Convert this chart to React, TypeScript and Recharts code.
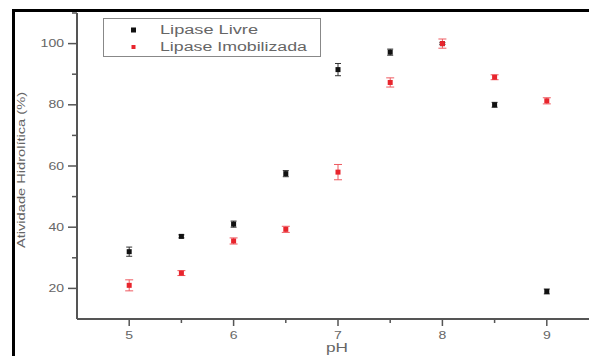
import { ScatterChart, Scatter, XAxis, YAxis, ErrorBar } from "recharts";

const phValues = [5, 5.5, 6, 6.5, 7, 7.5, 8, 8.5, 9];
const livre = [32, 37, 41, 57.5, 91.5, 97.2, 100, 80, 19];
const livreErr = [1.5, 0.5, 1, 1, 2, 1, 0.3, 0.8, 0.8];
const imobilizada = [21, 25, 35.5, 39.3, 58, 87.3, 100, 89, 81.3];
const imobilizadaErr = [1.8, 0.8, 1, 1, 2.5, 1.5, 1.5, 0.8, 1];
const xTicks = [5, 5.5, 6, 6.5, 7, 7.5, 8, 8.5, 9];
const yTicks = [20, 30, 40, 50, 60, 70, 80, 90, 100, 110];

const livreData = phValues.map((ph, i) => ({ ph, v: livre[i], err: livreErr[i] }));
const imobData = phValues.map((ph, i) => ({ ph, v: imobilizada[i], err: imobilizadaErr[i] }));

const axisColor = "#555";
const textColor = "#666";

function YTick(props: any) {
  const { x, y, payload } = props;
  const major = payload.value % 20 === 0;
  const s = String(payload.value);
  return (
    <g>
      <line x1={x - (major ? 9 : 5)} x2={x} y1={y} y2={y} stroke={axisColor} strokeWidth={1.5} />
      {major && (
        <text x={x - 13} y={y} dy={3.5} textAnchor="end" fontSize={10} fill={textColor}
          fontFamily="Liberation Sans, Arial, sans-serif" textLength={s.length * 7.8} lengthAdjust="spacingAndGlyphs">
          {s}
        </text>
      )}
    </g>
  );
}

function XTick(props: any) {
  const { x, y, payload } = props;
  const major = payload.value % 1 === 0;
  const s = String(payload.value);
  return (
    <g>
      <line x1={x} x2={x} y1={y} y2={y + (major ? 7 : 4)} stroke={axisColor} strokeWidth={1.5} />
      {major && (
        <text x={x} y={y + 20} textAnchor="middle" fontSize={10} fill={textColor}
          fontFamily="Liberation Sans, Arial, sans-serif" textLength={s.length * 7.8} lengthAdjust="spacingAndGlyphs">
          {s}
        </text>
      )}
    </g>
  );
}

const square = (color: string, size: number) => (props: any) => (
  <rect x={props.cx - size / 2} y={props.cy - size / 2} width={size} height={size} fill={color} />
);

export default function App() {
  return (
    <div style={{ position: "absolute", left: 0, top: 0, width: 589, height: 356, overflow: "hidden", background: "#fff" }}>
      <div style={{ position: "absolute", left: 12, top: 9, width: 600, height: 400, borderTop: "3px solid #000", borderLeft: "3px solid #000" }} />
      <ScatterChart width={600} height={356} margin={{ top: 13, right: 1, bottom: 7, left: 0 }}>
        <XAxis
          type="number"
          dataKey="ph"
          domain={[4.5, 9.5]}
          ticks={xTicks}
          height={30}
          tickSize={0}
          tickMargin={0}
          tick={<XTick />}
          stroke={axisColor}
          strokeWidth={2}
          label={() => (
            <text x={337} y={352} textAnchor="middle" fontSize={12} fill={textColor}
              fontFamily="Liberation Sans, Arial, sans-serif" textLength={22} lengthAdjust="spacingAndGlyphs">
              pH
            </text>
          )}
        />
        <YAxis
          type="number"
          dataKey="v"
          domain={[10, 110]}
          ticks={yTicks}
          width={77}
          tickSize={0}
          tickMargin={0}
          tick={<YTick />}
          stroke={axisColor}
          strokeWidth={2}
          label={() => (
            <text x={25} y={170} textAnchor="middle" fontSize={11} fill={textColor} transform="rotate(-90 25 170)"
              fontFamily="Liberation Sans, Arial, sans-serif" textLength={156} lengthAdjust="spacingAndGlyphs">
              Atividade Hidrolítica (%)
            </text>
          )}
        />
        <Scatter data={livreData} shape={square("#111", 5)} isAnimationActive={false}>
          <ErrorBar dataKey="err" direction="y" width={3} stroke="#333" strokeWidth={1} />
        </Scatter>
        <Scatter data={imobData} shape={square("#e8252d", 5)} isAnimationActive={false}>
          <ErrorBar dataKey="err" direction="y" width={4} stroke="#ee5a60" strokeWidth={1} />
        </Scatter>
      </ScatterChart>
      <svg style={{ position: "absolute", left: 103, top: 18 }} width={220} height={41}>
        <rect x={0.5} y={0.5} width={217} height={38} fill="#fff" stroke="#888" strokeWidth={1} />
        <rect x={28} y={9.5} width={5} height={5} fill="#111" />
        <rect x={28.5} y={27} width={4} height={4} fill="#e8252d" />
        <text x={57} y={16} fontSize={12.5} fill={textColor} fontFamily="Liberation Sans, Arial, sans-serif"
          textLength={98} lengthAdjust="spacingAndGlyphs">
          Lipase Livre
        </text>
        <text x={57} y={33} fontSize={12.5} fill={textColor} fontFamily="Liberation Sans, Arial, sans-serif"
          textLength={147} lengthAdjust="spacingAndGlyphs">
          Lipase Imobilizada
        </text>
      </svg>
    </div>
  );
}
